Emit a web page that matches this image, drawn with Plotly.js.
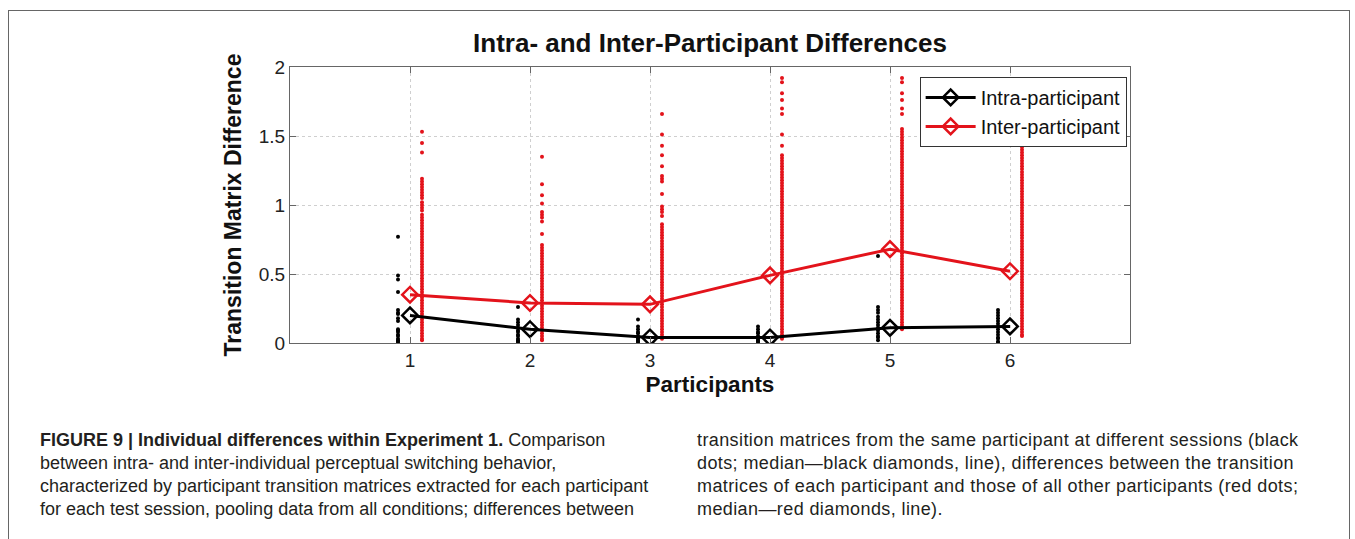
<!DOCTYPE html>
<html>
<head>
<meta charset="utf-8">
<script src="https://cdn.plot.ly/plotly-3.0.1.min.js"></script>
<style>
  html, body { margin: 0; padding: 0; background: #ffffff; }
  #wrap { position: relative; width: 1355px; height: 539px; overflow: hidden; }
  #frame { position: absolute; left: 8px; top: 10px; width: 1342px; height: 560px; border: 1px solid #666; box-sizing: border-box; }
  #chart { position: absolute; left: 0; top: 0; width: 1355px; height: 539px; }
  .cap { position: absolute; top: 429px; font-family: "Liberation Sans", Arial, sans-serif; font-size: 18px; line-height: 23px; color: #231f20; white-space: nowrap; }
</style>
</head>
<body>
<div id="wrap">
  <div id="frame"></div>
  <div id="chart"></div>
  <div class="cap" style="left:40px;"><b>FIGURE 9 | Individual differences within Experiment 1.</b> Comparison<br>between intra- and inter-individual perceptual switching behavior,<br>characterized by participant transition matrices extracted for each participant<br>for each test session, pooling data from all conditions; differences between</div>
  <div class="cap" style="left:697px; letter-spacing:0.4px;">transition matrices from the same participant at different sessions (black<br>dots; median—black diamonds, line), differences between the transition<br>matrices of each participant and those of all other participants (red dots;<br>median—red diamonds, line).</div>
</div>
<script>
// ---- data ----
const participants = [1, 2, 3, 4, 5, 6];
const xTickLabels = ["1", "2", "3", "4", "5", "6"];
const yTickVals = [0, 0.5, 1, 1.5, 2];
const yTickLabels = ["0", "0.5", "1", "1.5", "2"];

const intraMedian = [0.20, 0.10, 0.04, 0.04, 0.11, 0.12];
const interMedian = [0.35, 0.29, 0.28, 0.49, 0.68, 0.52];

const intraP1 = [0.77, 0.49, 0.46, 0.37, 0.24, 0.22, 0.21, 0.18, 0.16, 0.10, 0.09, 0.08, 0.06, 0.05, 0.03, 0.02, 0.01, 0.00];
const intraP2 = [0.26, 0.17, 0.15, 0.13, 0.11, 0.09, 0.08, 0.06, 0.05, 0.03, 0.02, 0.01, 0.00];
const intraP3 = [0.17, 0.12, 0.10, 0.08, 0.07, 0.05, 0.04, 0.03, 0.02, 0.01, 0.00];
const intraP4 = [0.12, 0.10, 0.08, 0.07, 0.05, 0.04, 0.03, 0.02, 0.01, 0.00];
const intraP5 = [0.63, 0.26, 0.24, 0.22, 0.19, 0.17, 0.15, 0.13, 0.11, 0.09, 0.07, 0.05, 0.04, 0.02];
const intraP6 = [0.24, 0.22, 0.20, 0.18, 0.16, 0.14, 0.12, 0.10, 0.08, 0.06, 0.04, 0.03, 0.01, 0.00];

const interP1 = [1.53, 1.45, 1.38, 1.19, 1.17, 1.15, 1.13, 1.11, 1.09, 1.07, 1.05, 1.02, 1.00, 0.98, 0.96, 0.93, 0.91, 0.89, 0.87, 0.85, 0.83, 0.81, 0.79, 0.77, 0.75, 0.73, 0.71, 0.69, 0.67, 0.65, 0.63, 0.61, 0.59, 0.57, 0.55, 0.53, 0.51, 0.49, 0.47, 0.45, 0.43, 0.41, 0.39, 0.37, 0.35, 0.33, 0.31, 0.29, 0.27, 0.25, 0.23, 0.21, 0.19, 0.17, 0.15, 0.13, 0.11, 0.09, 0.07, 0.05, 0.03, 0.02];
const interP2 = [1.35, 1.15, 1.07, 1.01, 0.95, 0.93, 0.91, 0.88, 0.79, 0.71, 0.69, 0.67, 0.65, 0.63, 0.61, 0.59, 0.57, 0.55, 0.53, 0.51, 0.49, 0.47, 0.45, 0.43, 0.41, 0.39, 0.37, 0.35, 0.33, 0.31, 0.29, 0.27, 0.25, 0.23, 0.21, 0.19, 0.17, 0.15, 0.13, 0.11, 0.09, 0.07, 0.05, 0.03, 0.02];
const interP3 = [1.66, 1.51, 1.43, 1.36, 1.28, 1.21, 1.19, 1.17, 1.08, 0.99, 0.97, 0.95, 0.92, 0.86, 0.84, 0.82, 0.80, 0.78, 0.76, 0.74, 0.72, 0.70, 0.68, 0.66, 0.64, 0.62, 0.60, 0.58, 0.56, 0.54, 0.52, 0.50, 0.48, 0.46, 0.44, 0.42, 0.40, 0.38, 0.36, 0.34, 0.32, 0.30, 0.28, 0.26, 0.24, 0.22, 0.20, 0.18, 0.16, 0.14, 0.12, 0.10, 0.08, 0.06, 0.04, 0.03];
const interP4 = [1.92, 1.89, 1.81, 1.76, 1.70, 1.66, 1.51, 1.43, 1.36, 1.34, 1.32, 1.30, 1.28, 1.26, 1.24, 1.22, 1.20, 1.18, 1.16, 1.14, 1.12, 1.10, 1.08, 1.06, 1.04, 1.02, 1.00, 0.98, 0.96, 0.94, 0.92, 0.90, 0.88, 0.86, 0.84, 0.82, 0.80, 0.78, 0.76, 0.74, 0.72, 0.70, 0.68, 0.66, 0.64, 0.62, 0.60, 0.58, 0.56, 0.54, 0.52, 0.50, 0.48, 0.46, 0.44, 0.42, 0.40, 0.38, 0.36, 0.34, 0.32, 0.30, 0.28, 0.26, 0.24, 0.22, 0.20, 0.18, 0.16, 0.14, 0.12, 0.10, 0.08, 0.06, 0.04, 0.03];
const interP5 = [1.92, 1.89, 1.81, 1.76, 1.70, 1.66, 1.55, 1.53, 1.51, 1.49, 1.47, 1.45, 1.43, 1.41, 1.39, 1.37, 1.35, 1.33, 1.31, 1.29, 1.27, 1.25, 1.23, 1.21, 1.19, 1.17, 1.15, 1.13, 1.11, 1.09, 1.07, 1.05, 1.03, 1.01, 0.99, 0.97, 0.95, 0.93, 0.91, 0.89, 0.87, 0.85, 0.83, 0.81, 0.79, 0.77, 0.75, 0.73, 0.71, 0.69, 0.67, 0.65, 0.63, 0.61, 0.59, 0.57, 0.55, 0.53, 0.51, 0.49, 0.47, 0.45, 0.43, 0.41, 0.39, 0.37, 0.35, 0.33, 0.31, 0.29, 0.27, 0.25, 0.23, 0.21, 0.19, 0.17, 0.15, 0.13, 0.11, 0.10];
const interP6 = [1.56, 1.54, 1.52, 1.50, 1.48, 1.46, 1.44, 1.42, 1.40, 1.38, 1.36, 1.34, 1.32, 1.30, 1.28, 1.26, 1.24, 1.22, 1.20, 1.18, 1.16, 1.14, 1.12, 1.10, 1.08, 1.06, 1.04, 1.02, 1.00, 0.98, 0.96, 0.94, 0.92, 0.90, 0.88, 0.86, 0.84, 0.82, 0.80, 0.78, 0.76, 0.74, 0.72, 0.70, 0.68, 0.66, 0.64, 0.62, 0.60, 0.58, 0.56, 0.54, 0.52, 0.50, 0.48, 0.46, 0.44, 0.42, 0.40, 0.38, 0.36, 0.34, 0.32, 0.30, 0.28, 0.26, 0.24, 0.22, 0.20, 0.18, 0.16, 0.14, 0.12, 0.10, 0.08, 0.06, 0.05];

const intraDots = [intraP1, intraP2, intraP3, intraP4, intraP5, intraP6];
const interDots = [interP1, interP2, interP3, interP4, interP5, interP6];

// ---- build traces ----
const BLACK = "#000000";
const RED = "#e3131b";
function dotTrace(groups, offset, color) {
  const xs = [], ys = [];
  groups.forEach((vals, i) => {
    vals.forEach(v => { xs.push(participants[i] + offset); ys.push(v); });
  });
  return {
    x: xs, y: ys, type: "scatter", mode: "markers", showlegend: false, hoverinfo: "skip",
    marker: { color: color, size: 4, line: { width: 0 } }
  };
}

const traces = [
  dotTrace(intraDots, -0.1, BLACK),
  dotTrace(interDots, 0.1, RED),
  {
    x: participants, y: intraMedian, type: "scatter", mode: "lines+markers", name: "Intra-participant",
    line: { color: BLACK, width: 3 },
    marker: { symbol: "diamond-open", size: 12, color: BLACK, line: { width: 2.5, color: BLACK } }
  },
  {
    x: participants, y: interMedian, type: "scatter", mode: "lines+markers", name: "Inter-participant",
    line: { color: RED, width: 3 },
    marker: { symbol: "diamond-open", size: 12, color: RED, line: { width: 2.5, color: RED } }
  }
];

const layout = {
  width: 1355, height: 539,
  margin: { l: 290, r: 225, t: 67, b: 196, pad: 0 },
  paper_bgcolor: "rgba(0,0,0,0)",
  plot_bgcolor: "#ffffff",
  font: { family: "Liberation Sans, Arial, sans-serif", color: "#222" },
  title: {
    text: "<b>Intra- and Inter-Participant Differences</b>",
    font: { size: 26, color: "#111" },
    x: 0.5, xref: "paper", xanchor: "center", y: 0.921, yref: "container", yanchor: "middle"
  },
  xaxis: {
    range: [0, 7], tickvals: participants, ticktext: xTickLabels,
    showgrid: true, gridcolor: "#cfcfcf", griddash: "dot", gridwidth: 1,
    zeroline: false, showline: true, linecolor: "#666", linewidth: 1, mirror: "ticks",
    ticks: "inside", ticklen: 6, tickcolor: "#666",
    tickfont: { size: 19, color: "#222" },
    title: { text: "<b>Participants</b>", font: { size: 22.5, color: "#111" }, standoff: 6 }
  },
  yaxis: {
    range: [0, 2], tickvals: yTickVals, ticktext: yTickLabels,
    showgrid: true, gridcolor: "#cfcfcf", griddash: "dot", gridwidth: 1,
    zeroline: false, showline: true, linecolor: "#666", linewidth: 1, mirror: "ticks",
    ticks: "inside", ticklen: 6, tickcolor: "#666",
    tickfont: { size: 19, color: "#222" },
    title: { text: "<b>Transition Matrix Difference</b>", font: { size: 23, color: "#111" }, standoff: 10 }
  },
  legend: {
    x: 0.996, y: 0.964, xanchor: "right", yanchor: "top",
    bgcolor: "#ffffff", bordercolor: "#333", borderwidth: 1,
    font: { size: 20, color: "#111" }, itemwidth: 50, tracegroupgap: 0
  },
  showlegend: true
};

Plotly.newPlot("chart", traces, layout, { displayModeBar: false, staticPlot: true });
</script>
</body>
</html>
